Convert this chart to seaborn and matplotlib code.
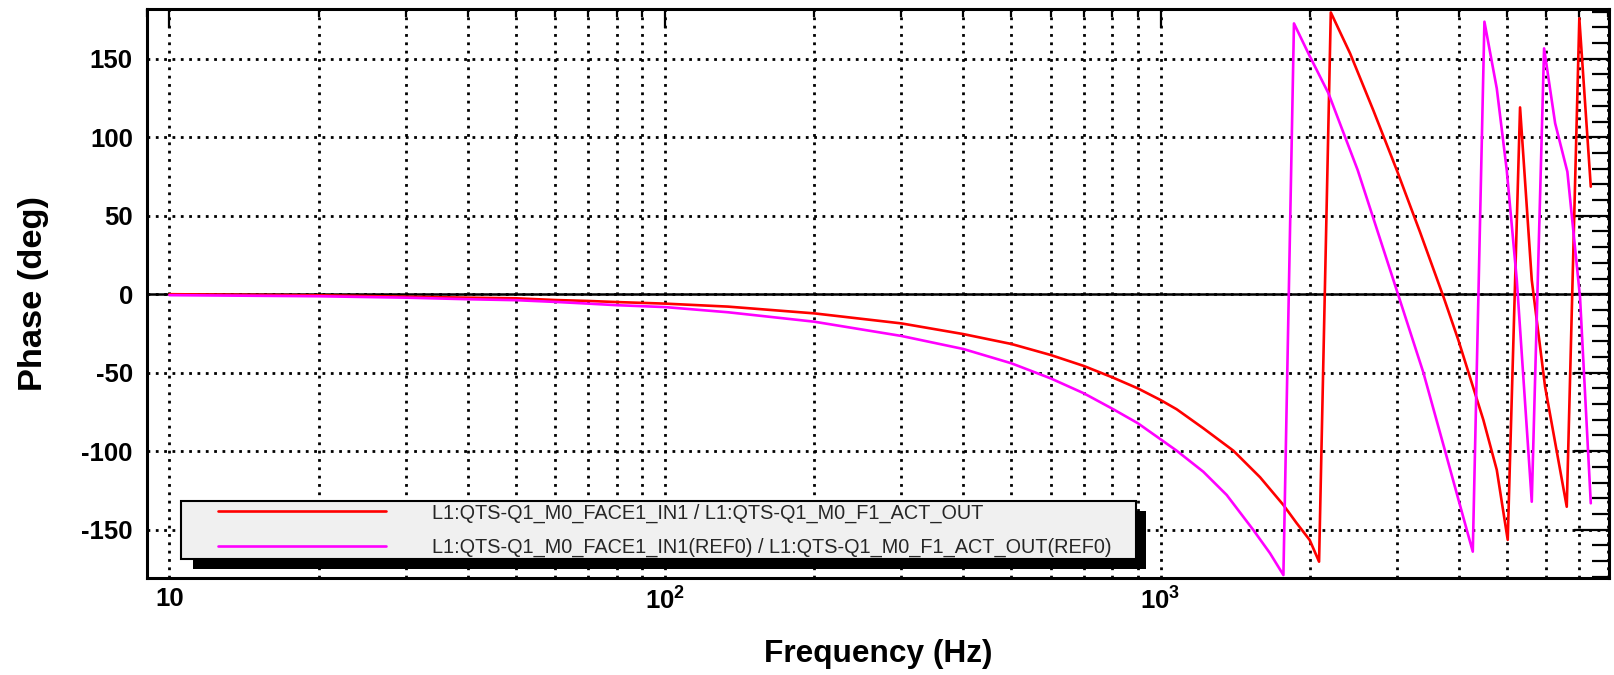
import matplotlib
matplotlib.use("Agg")
import numpy as np
import pandas as pd
import matplotlib.pyplot as plt
import seaborn as sns
from matplotlib import font_manager
from matplotlib.lines import Line2D
from matplotlib.patches import Rectangle
from matplotlib.transforms import IdentityTransform
from matplotlib.legend_handler import HandlerLine2D
from matplotlib.ticker import FixedLocator, FixedFormatter, MultipleLocator, LogLocator, NullFormatter

# ---------------- data ----------------
series_labels = [
    "L1:QTS-Q1_M0_FACE1_IN1 / L1:QTS-Q1_M0_F1_ACT_OUT",
    "L1:QTS-Q1_M0_FACE1_IN1(REF0) / L1:QTS-Q1_M0_F1_ACT_OUT(REF0)",
]
series_colors = ["#ff0000", "#ff00ff"]

red_freq = [10, 20, 30, 40, 50, 60, 70, 80, 100, 134, 200, 300, 400, 500, 600,
            700, 800, 900, 1000, 1078, 1220, 1403, 1588, 1770, 1883, 2000, 2089,
            2206, 2413, 2689, 2997, 3340, 3723, 3990, 4482, 4770, 5019, 5315,
            5612, 5970, 6603, 7000, 7383]
red_phase = [0.0, -0.7, -1.6, -2.2, -2.6, -3.7, -4.3, -5.0, -6.0, -7.9, -12.2,
             -18.6, -25.4, -31.7, -38.7, -45.7, -53.0, -60.0, -67.4, -73.3,
             -85.4, -99.7, -116.6, -134.3, -145.9, -156.6, -170.4,
             179.5, 153.4, 117.0, 79.1, 39.5, -1.6, -29.2, -80.1, -111.9, -156.5,
             119.0, 9.0, -58.9, -135.4, 175.7, 68.5]

mag_freq = [10, 20, 30, 40, 50, 60, 70, 80, 100, 134, 200, 300, 400, 500, 600,
            700, 800, 900, 1000, 1078, 1220, 1360, 1539, 1663, 1770,
            1859, 2000, 2182, 2500, 2951, 3392, 3752, 4150, 4267,
            4504, 4770, 4996, 5235, 5612, 5943, 6256, 6622, 7023, 7383]
mag_phase = [-0.6, -1.3, -2.2, -3.2, -3.8, -4.9, -6.0, -7.0, -8.2, -11.5, -17.5,
             -26.6, -34.9, -44.0, -53.6, -63.1, -73.0, -82.2, -92.4, -99.7,
             -113.1, -127.9, -150.2, -165.0, -178.9,
             172.5, 151.7, 128.0, 79.0, 9.0, -50.0, -99.9, -150.2, -164.0,
             173.6, 131.1, 79.1, 9.0, -132.2, 156.6, 108.9, 78.0, -2.0, -133.2]

x_tick_values = [10, 100, 1000]
x_tick_labels = ["10", r"$10^{2}$", r"$10^{3}$"]
y_tick_values = [-150, -100, -50, 0, 50, 100, 150]
x_label = "Frequency (Hz)"
y_label = "Phase (deg)"

# ---------------- style ----------------
sns.set_theme(style="white")
plt.rcParams["font.family"] = ["Liberation Sans", "DejaVu Sans"]
plt.rcParams["mathtext.fontset"] = "custom"
plt.rcParams["mathtext.default"] = "regular"
plt.rcParams["axes.unicode_minus"] = False

W, H = 1615, 675
fig = plt.figure(figsize=(W / 100, H / 100), dpi=100)
ax_l, ax_r, ax_t, ax_b = 146.7, 1609.0, 9.3, 577.7
ax = fig.add_axes([ax_l / W, 1 - ax_b / H, (ax_r - ax_l) / W, (ax_b - ax_t) / H])

df = pd.concat([
    pd.DataFrame({"freq": red_freq, "phase": red_phase, "series": series_labels[0]}),
    pd.DataFrame({"freq": mag_freq, "phase": mag_phase, "series": series_labels[1]}),
], ignore_index=True)

sns.lineplot(data=df, x="freq", y="phase", hue="series",
             hue_order=series_labels,
             palette=dict(zip(series_labels, series_colors)),
             estimator=None, sort=False, linewidth=1.9, legend=False, ax=ax)

ax.set_xscale("log")
ax.set_xlim(9.0, 8035)
ax.set_ylim(-180.6, 181.5)

ax.axhline(0, color="black", linewidth=1.8, zorder=1.5)

# ticks
ax.xaxis.set_major_locator(FixedLocator(x_tick_values))
ax.xaxis.set_major_formatter(FixedFormatter(x_tick_labels))
ax.xaxis.set_minor_locator(LogLocator(base=10, subs=range(2, 10), numticks=20))
ax.xaxis.set_minor_formatter(NullFormatter())
ax.yaxis.set_major_locator(FixedLocator(y_tick_values))
ax.yaxis.set_minor_locator(MultipleLocator(10))

ax.tick_params(axis="both", which="both", direction="in", top=True, right=True,
               color="black", labelcolor="black")
ax.tick_params(axis="y", which="major", length=25, width=1.6, pad=10, labelsize=18.5)
ax.tick_params(axis="y", which="minor", length=12.5, width=1.6)
ax.tick_params(axis="x", which="major", length=14, width=1.6, pad=7, labelsize=18.5)
ax.tick_params(axis="x", which="minor", length=6, width=1.6)
for lab in ax.get_xticklabels() + ax.get_yticklabels():
    lab.set_fontweight("bold")

grid_style = dict(color="black", linestyle=(0, (1, 2.0)), linewidth=2.0)
ax.xaxis.grid(True, which="both", **grid_style)
ax.yaxis.grid(True, which="major", **grid_style)
ax.yaxis.grid(False, which="minor")
ax.set_axisbelow(True)

for sp in ax.spines.values():
    sp.set_color("black")
    sp.set_linewidth(2.2)
ax.set_facecolor("white")

ax.set_xlabel(x_label, fontsize=22.8, fontweight="bold", color="black")
ax.set_ylabel(y_label, fontsize=24.8, fontweight="bold", color="black")
ax.xaxis.set_label_coords(0.5, -0.108)
ax.yaxis.set_label_coords(-0.067, 0.5)

# legend
try:
    font_manager.findfont("Liberation Sans Narrow", fallback_to_default=False)
    leg_family = ["Liberation Sans Narrow", "Liberation Sans"]
    fs = 17.4
except Exception:
    leg_family = ["Liberation Sans"]
    fs = 14.3
fs_px = fs * 100 / 72
handles = [Line2D([], [], color=c, linewidth=1.9) for c in series_colors]
leg_left, leg_right, leg_top, leg_bottom = 180.7, 1136.0, 501.0, 561.7
leg = ax.legend(handles, series_labels, loc="upper left",
                bbox_to_anchor=(leg_left / W, 1 - leg_bottom / H,
                                (leg_right - leg_left) / W, (leg_bottom - leg_top) / H),
                bbox_transform=fig.transFigure, mode="expand",
                frameon=True, fancybox=False, shadow=False, framealpha=1,
                facecolor="#f0f0f0", edgecolor="black",
                prop={"family": leg_family, "size": fs},
                borderpad=0.12, borderaxespad=0, labelspacing=0.76,
                handlelength=(384 - leg_left) / fs_px, handletextpad=46 / fs_px,
                handler_map={Line2D: HandlerLine2D(xpad=(216 - leg_left) / fs_px)})
leg.get_frame().set_linewidth(1.5)
leg.set_zorder(5)

fig.canvas.draw()
bb = leg.get_frame().get_window_extent()
shadow = Rectangle((bb.x0 + 12, bb.y0 - 10), bb.width - 2, bb.height,
                   transform=IdentityTransform(), facecolor="black",
                   edgecolor="none", zorder=4.9, clip_on=False)
ax.add_artist(shadow)

fig.savefig("out.png", dpi=100, facecolor="white")
